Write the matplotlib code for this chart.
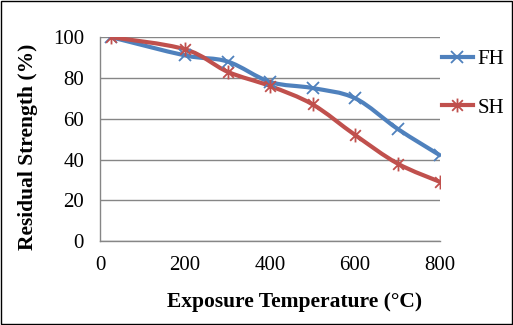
import numpy as np
import matplotlib.pyplot as plt
from matplotlib.path import Path
from matplotlib.patches import PathPatch
from matplotlib.lines import Line2D

# Data
temps = [25, 200, 300, 400, 500, 600, 700, 800]
fh = [100, 91, 88, 78, 75, 70, 55, 42]
sh = [100, 94, 83, 76, 67, 52, 38, 29]

blue = '#4F81BD'
red = '#C0504D'

plt.rcParams['font.family'] = ['Liberation Serif', 'DejaVu Serif']


def smooth_path(x, y):
    # Excel-style smoothed line: cubic bezier through the points
    x = np.asarray(x, float)
    y = np.asarray(y, float)
    verts = [(x[0], y[0])]
    codes = [Path.MOVETO]
    n = len(x)
    for i in range(n - 1):
        p0 = (x[max(i - 1, 0)], y[max(i - 1, 0)])
        p1 = (x[i], y[i])
        p2 = (x[i + 1], y[i + 1])
        p3 = (x[min(i + 2, n - 1)], y[min(i + 2, n - 1)])
        c1 = (p1[0] + (p2[0] - p0[0]) / 6, p1[1] + (p2[1] - p0[1]) / 6)
        c2 = (p2[0] - (p3[0] - p1[0]) / 6, p2[1] - (p3[1] - p1[1]) / 6)
        verts += [c1, c2, p2]
        codes += [Path.CURVE4] * 3
    return Path(verts, codes)


# Excel "star" marker: an x with a vertical stroke through it
star = Path([(-1, -1), (1, 1), (-1, 1), (1, -1), (0, -1.3), (0, 1.3)],
            [Path.MOVETO, Path.LINETO] * 3)

fig = plt.figure(figsize=(5.13, 3.25), dpi=100)
ax = fig.add_axes([0.195, 0.258, 0.663, 0.628])

for vals, col in [(fh, blue), (sh, red)]:
    ax.add_patch(PathPatch(smooth_path(temps, vals), facecolor='none',
                           edgecolor=col, lw=3, capstyle='round', zorder=3))

ax.plot(temps, fh, ls='none', marker='x', ms=8.5, mew=1.3, color=blue, zorder=4)
ax.plot(temps, sh, ls='none', marker=star, ms=10, mew=1.3, color=red,
        mfc='none', zorder=4)

ax.set_xlim(0, 800)
ax.set_ylim(0, 100)
ax.set_xticks([0, 200, 400, 600, 800])
ax.set_yticks([0, 20, 40, 60, 80, 100])
ax.yaxis.grid(True, color='#868686', lw=1)
ax.set_axisbelow(True)
for s in ['top', 'right']:
    ax.spines[s].set_visible(False)
for s in ['left', 'bottom']:
    ax.spines[s].set_color('#868686')
    ax.spines[s].set_linewidth(1)
ax.tick_params(length=0, labelsize=15)
ax.tick_params(axis='x', pad=10.5)
ax.tick_params(axis='y', pad=11.5)

ax.set_xlabel('Exposure Temperature (°C)', fontsize=15.5, fontweight='bold', va='center')
ax.set_ylabel('Residual Strength (%)', fontsize=15.5, fontweight='bold', va='center')
ax.xaxis.set_label_coords(0.572, -0.297)
ax.yaxis.set_label_coords(-0.212, 0.463)

handles = [
    Line2D([], [], color=blue, lw=3, marker='x', ms=8.5, mew=1.3),
    Line2D([], [], color=red, lw=3, marker=star, ms=10, mew=1.3, mfc='none'),
]
fig.legend(handles, ['FH', 'SH'], loc='upper left', bbox_to_anchor=(0.846, 0.874),
           frameon=False, fontsize=15, handlelength=1.45, handletextpad=0.25,
           labelspacing=1.4, borderaxespad=0)

# outer frame
fig.patches.append(plt.Rectangle((0.002, 0.003), 0.996, 0.994, transform=fig.transFigure,
                                 fill=False, edgecolor='black', lw=1))

fig.savefig('out.png', dpi=100)
